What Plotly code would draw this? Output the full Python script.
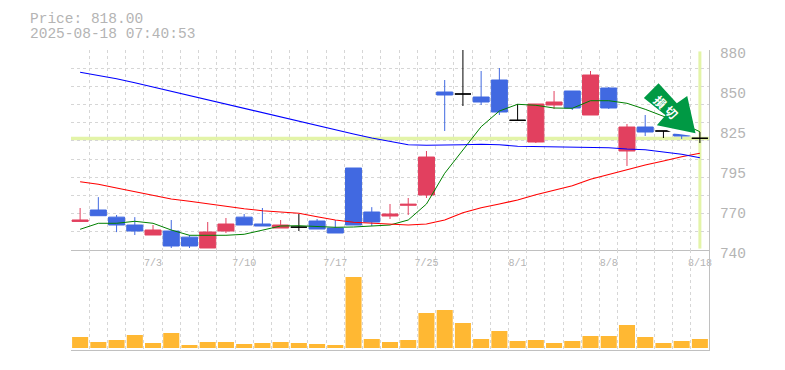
import plotly.graph_objects as go

dates = ["6/27","6/30","7/1","7/2","7/3","7/4","7/7","7/8","7/9","7/10","7/11","7/14","7/15","7/16","7/17","7/18","7/22","7/23","7/24","7/25","7/28","7/29","7/30","7/31","8/1","8/4","8/5","8/6","8/7","8/8","8/12","8/13","8/14","8/15","8/18"]
opens = [760,768,763,757.5,750.5,753.3,749,741.4,753.3,763,758.2,755.4,756,760.3,755.4,797.4,766.6,763.8,771.3,778.5,850.6,849.2,847.1,859,830.8,815.6,841.5,851.3,834.5,853.4,809.3,826.1,823.3,821.2,818.2]
highs = [769.4,777,764.5,763,757.5,761,750.5,759.6,762.4,765.2,769.4,761,765.2,761.7,761,797.4,770,772.2,776.4,809.3,859,885,865.3,867.4,842.2,842.2,851.3,851.3,865.3,854.1,828.2,834.5,823.3,821.5,822.6]
lows = [759.8,764,752.5,750.5,750.5,741.4,741.4,741.4,751.9,757.5,756.8,755.4,753.3,754.7,751.9,757.5,756.8,761.7,764.5,776.4,823.3,840.8,841.5,834.5,830.8,814.9,838.7,838,834.5,838.7,798.8,819.8,818.4,817.7,814.9]
closes = [761,764,757.5,753.3,754,742.8,742.8,752.6,758.2,757.5,756.8,757.5,756,754.7,751.9,757.5,759.6,765.2,772,805.1,848.5,849.2,843.6,836.6,830.8,842.2,843.6,839.4,862.5,839.4,826.1,822.6,823.3,819.8,818.2]
ma_green = [754.5,758.7,758.7,760.1,758.7,754,750.3,750.3,750.3,751,754,756.8,757,756.3,755.9,756.1,756.8,757.5,761,772.2,793.7,810,826.3,837.3,842,841.3,839.4,839.2,844.5,844.5,842.7,838.5,833.8,828.7,822.8]
ma_red = [787.8,786,783.4,780.8,777.8,775.7,774.1,772.4,770.3,768.9,767.5,766.6,765.7,763.3,761,759.4,758.7,758,757.5,758.2,761,766.1,769.6,772.2,775,778.7,782,785,789.5,793,796,799.5,802.3,805.3,807.7]
ma_blue = [864.4,862.3,859.9,857.1,854.1,851.1,848,845,842,839.2,836.1,832.9,829.8,827,824,821.2,818.4,815.8,813.7,813.3,813.3,813.7,814,813.7,812.6,812.3,812.3,811.9,811.9,811.6,810.7,810.2,808.6,807,804.6]
volumes = [11,6,8,13,5,15,3,6,6,4,5,6,5,4,3,71,9,6,8,35,38,25,9,17,7,8,5,7,12,12,23,11,5,7,9]
label_idx = [4,9,14,19,24,29,34]
price_ticks = [880,852,824,796,768,740]
price_labels = ["880","850","825","795","770","740"]
last_price = 818
title_lines = ["Price: 818.00","2025-08-18 07:40:53"]

idx = list(range(len(dates)))
GREY = "#C0C0C0"
TEXT = "#B4B4B4"
GRID = "#D6D6D6"
RED = "#E2405F"
BLUE = "#4169E1"
PALE = "#E3F4A8"
FONT = "Liberation Mono"

W,H = 785,370
L,R,T,B = 71,709.5,50,350
px = lambda x:(x-L)/(R-L)
py = lambda y:(B-y)/(B-T)
def path(pts):
    return "M"+" L".join(f"{px(x):.5f},{py(y):.5f}" for x,y in pts)+" Z"

is_doji = [o==c for o,c in zip(opens,closes)]
sel = lambda arr,flag:[v for v,d in zip(arr,is_doji) if d==flag]

fig = go.Figure()
fig.add_trace(go.Scatter(x=idx,y=ma_green,mode="lines",line=dict(color="#008000",width=1),yaxis="y",xaxis="x",hoverinfo="skip"))
fig.add_trace(go.Scatter(x=idx,y=ma_red,mode="lines",line=dict(color="#FF0000",width=1.1),xaxis="x",yaxis="y",hoverinfo="skip"))
fig.add_trace(go.Scatter(x=idx,y=ma_blue,mode="lines",line=dict(color="#0000FF",width=1.1),xaxis="x",yaxis="y",hoverinfo="skip"))
for flag,up,down in [(False,RED,BLUE),(True,"#000000","#000000")]:
    fig.add_trace(go.Candlestick(x=sel(idx,flag),open=sel(opens,flag),high=sel(highs,flag),low=sel(lows,flag),close=sel(closes,flag),
        increasing=dict(line=dict(color=up,width=1),fillcolor=up),
        decreasing=dict(line=dict(color=down,width=1),fillcolor=down),
        whiskerwidth=0,xaxis="x",yaxis="y"))
fig.add_trace(go.Bar(x=idx,y=volumes,width=0.88,marker=dict(color="#FFB833",line=dict(width=0)),xaxis="x2",yaxis="y2"))

minor = dict(tickmode="array",tickvals=[i-0.5 for i in range(len(dates)+1)],showgrid=True,gridcolor=GRID,griddash="3px,3px",gridwidth=1,ticks="")
fig.update_layout(
    width=W,height=H,margin=dict(l=L,r=W-R,t=T,b=H-B,autoexpand=False),autosize=False,
    paper_bgcolor="white",plot_bgcolor="white",showlegend=False,boxgap=0.12,boxgroupgap=0,
    xaxis=dict(domain=[0,1],range=[-0.5,34.5],anchor="y",automargin=False,rangeslider=dict(visible=False),
        tickmode="array",tickvals=label_idx,ticktext=[dates[i] for i in label_idx],showgrid=False,minor=minor,
        ticks="",ticklabelstandoff=3,showline=True,linecolor=GREY,linewidth=1,tickfont=dict(family=FONT,size=10,color=TEXT),zeroline=False),
    xaxis2=dict(domain=[0,1],range=[-0.5,34.5],anchor="y2",automargin=False,showticklabels=False,tickmode="array",tickvals=[],showgrid=False,minor=minor,
        ticks="",showline=True,linecolor=GREY,linewidth=1,zeroline=False),
    yaxis=dict(domain=[1/3,1],range=[740,880],anchor="x",automargin=False,side="right",tickmode="array",tickvals=price_ticks,ticktext=price_labels,
        showgrid=False,minor=dict(tickmode="linear",tick0=740,dtick=140/11,showgrid=True,gridcolor=GRID,griddash="3px,3px",gridwidth=1,ticks=""),
        ticks="",ticklabelshift=3,ticklabelstandoff=7,showline=True,linecolor=GREY,linewidth=1,
        tickfont=dict(family=FONT,size=14.5,color=TEXT),zeroline=False),
    yaxis2=dict(domain=[0,1/3],range=[-2,98],anchor="x2",automargin=False,side="right",showticklabels=False,showgrid=False,ticks="",
        showline=True,linecolor=GREY,linewidth=1,zeroline=False),
    shapes=[
        dict(type="line",xref="paper",x0=0,x1=1,yref="y",y0=last_price,y1=last_price,line=dict(color=PALE,width=3.5),layer="below"),
        dict(type="line",xref="x",x0=34,x1=34,yref="y",y0=741,y1=879,line=dict(color=PALE,width=3),layer="below"),
        dict(type="path",xref="paper",yref="paper",path=path([(657,125),(696,133.3),(698,136.5),(690,135.5),(674,133.3)]),fillcolor="white",line=dict(width=0),layer="above"),
        dict(type="path",xref="paper",yref="paper",path=path([(644.3,98),(659,83.3),(677.3,103.3),(687.7,96),(696,133.3),(657.3,125.3),(666,115.3)]),fillcolor="#009944",line=dict(width=0),layer="above"),
    ],
    annotations=[
        dict(xref="paper",yref="paper",x=px(27.5),y=py(18.5),xanchor="left",yanchor="middle",showarrow=False,text=title_lines[0],font=dict(family=FONT,size=14.5,color=TEXT)),
        dict(xref="paper",yref="paper",x=px(27.5),y=py(34.5),xanchor="left",yanchor="middle",showarrow=False,text=title_lines[1],font=dict(family=FONT,size=14.5,color=TEXT)),
        dict(xref="paper",yref="paper",x=px(661),y=py(101),xanchor="center",yanchor="middle",showarrow=False,textangle=45,text="<b>損</b>",font=dict(family="Noto Sans CJK JP",size=12,color="white")),
        dict(xref="paper",yref="paper",x=px(672),y=py(111.5),xanchor="center",yanchor="middle",showarrow=False,textangle=45,text="<b>切</b>",font=dict(family="Noto Sans CJK JP",size=12,color="white")),
    ],
)
fig.write_html("out.html",post_script="document.body.style.margin='0';",config={"displayModeBar":False})
